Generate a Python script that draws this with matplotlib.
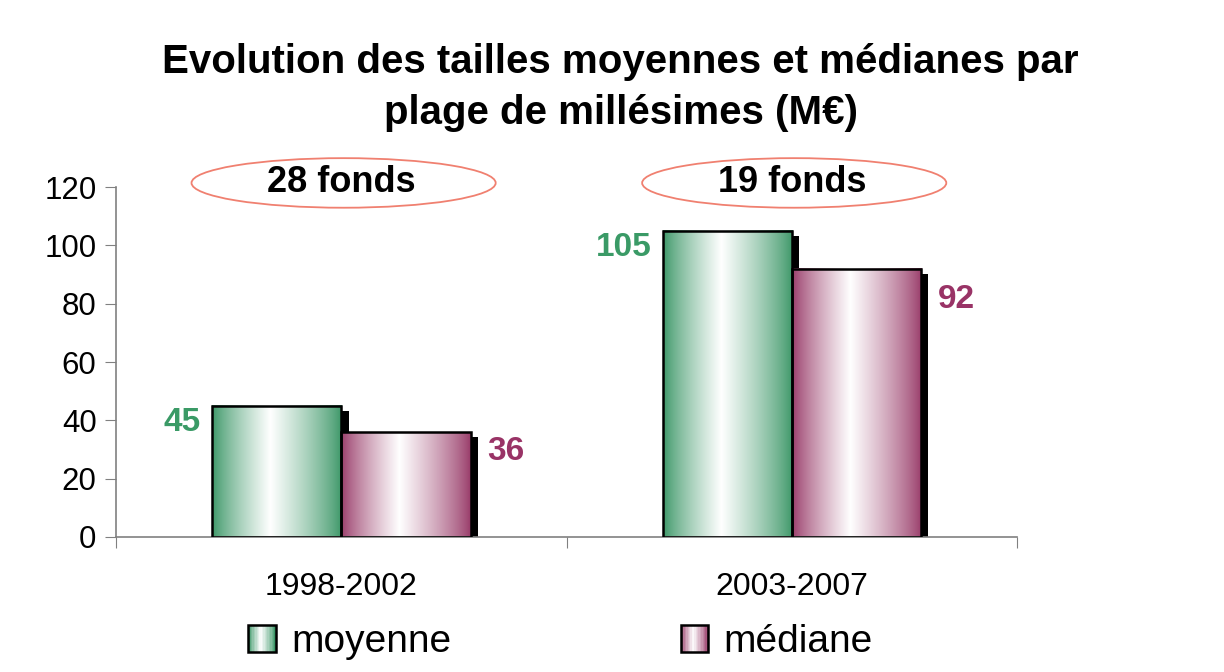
import numpy as np
import matplotlib
matplotlib.use("Agg")
import matplotlib.pyplot as plt
from matplotlib.patches import Rectangle, Ellipse
from matplotlib.legend_handler import HandlerBase

plt.rcParams['font.family'] = ['Liberation Sans', 'DejaVu Sans']

categories = ['1998-2002', '2003-2007']
moyenne = [45, 105]
mediane = [36, 92]
fonds_labels = ['28 fonds', '19 fonds']
series_names = ['moyenne', 'médiane']

green = np.array([58, 150, 102]) / 255
purple = np.array([152, 58, 104]) / 255
green_txt = '#3a9a66'
purple_txt = '#993366'


def gradient_row(color, n=200):
    # dark at the edges, white a bit left of centre
    t = np.linspace(0, 1, n)
    w = np.where(t < 0.45, t / 0.45, (1 - t) / 0.55)
    w = np.clip(w, 0, 1) ** 0.8
    rgb = color[None, :] * (1 - w[:, None]) + w[:, None]
    return rgb[None, :, :]


class GradientHandler(HandlerBase):
    def __init__(self, color):
        super().__init__()
        self.color = color

    def create_artists(self, legend, orig_handle, xdescent, ydescent, width, height, fontsize, trans):
        artists = []
        n = 20
        size = height * 1.0
        x0 = -xdescent + (width - size) / 2
        y0 = -ydescent
        cols = gradient_row(self.color, n)[0]
        for i in range(n):
            artists.append(Rectangle((x0 + i * size / n, y0), size / n, size,
                                     facecolor=cols[i], edgecolor='none', transform=trans))
        artists.append(Rectangle((x0, y0), size, size, facecolor='none',
                                 edgecolor='black', lw=1.8, transform=trans))
        return artists


fig = plt.figure(figsize=(12.24, 6.72), dpi=100)
ax = fig.add_axes([0.0948, 0.2009, 0.7363, 0.5208])

width = 0.2867
x = np.arange(len(categories))
dx, dh = 0.016, 1.7

for vals, color, side in [(moyenne, green, -1), (mediane, purple, 1)]:
    for xi, v in zip(x, vals):
        left = xi if side > 0 else xi - width
        # shadow
        ax.bar(left + dx, v - dh, width=width, align='edge', color='black', zorder=1)
        ax.imshow(gradient_row(color), extent=(left, left + width, 0, v),
                  aspect='auto', zorder=2, interpolation='bilinear')
        ax.bar(left, v, width=width, align='edge', facecolor='none',
               edgecolor='black', lw=1.8, zorder=3)

moy_dy = [-12, -12]
med_dy = [-14, -22]
for xi, v, dy in zip(x, moyenne, moy_dy):
    ax.annotate(str(v), (xi - width, v), xytext=(-8, dy), textcoords='offset points',
                ha='right', va='center', fontsize=24, fontweight='bold', color=green_txt)
for xi, v, dy in zip(x, mediane, med_dy):
    ax.annotate(str(v), (xi + width, v), xytext=(12, dy), textcoords='offset points',
                ha='left', va='center', fontsize=24, fontweight='bold', color=purple_txt)

ax.set_xlim(-0.5, 1.5)
ax.set_ylim(0, 120)
ax.set_yticks(range(0, 121, 20))
ax.set_xticks([-0.5, 0.5, 1.5])
ax.set_xticklabels([])
ax.set_xticks(x, minor=True)
ax.set_xticklabels(categories, minor=True)
ax.tick_params(axis='x', which='minor', length=0, pad=25, labelsize=23)
ax.tick_params(axis='x', which='major', length=8, direction='out', color='#808080')
ax.tick_params(axis='y', length=8, direction='out', color='#808080', labelsize=22.5, pad=6)
for s in ['top', 'right']:
    ax.spines[s].set_visible(False)
for s in ['left', 'bottom']:
    ax.spines[s].set_color('#808080')
    ax.spines[s].set_linewidth(1.2)

# ellipses with number of funds
for xi, lab in zip(x, fonds_labels):
    ax.add_patch(Ellipse((xi + 0.005, 121.4), 0.675, 17, transform=ax.transData,
                         facecolor='white', edgecolor='#f08070', lw=1.3,
                         clip_on=False, zorder=4))
    ax.text(xi, 121.4, lab, ha='center', va='center', fontsize=26,
            fontweight='bold', zorder=5, clip_on=False)

fig.text(0.507, 0.87, 'Evolution des tailles moyennes et médianes par\nplage de millésimes (M€)',
         ha='center', va='center', fontsize=29, fontweight='bold', linespacing=1.42)

handles = [Rectangle((0, 0), 1, 1), Rectangle((0, 0), 1, 1)]
fig.legend(handles, series_names, loc='center', bbox_to_anchor=(0.458, 0.045), ncol=2,
           frameon=False, fontsize=28, columnspacing=5.9, handlelength=0.7,
           handletextpad=0.4,
           handler_map={handles[0]: GradientHandler(green), handles[1]: GradientHandler(purple)})

fig.savefig('out.png', dpi=100)
